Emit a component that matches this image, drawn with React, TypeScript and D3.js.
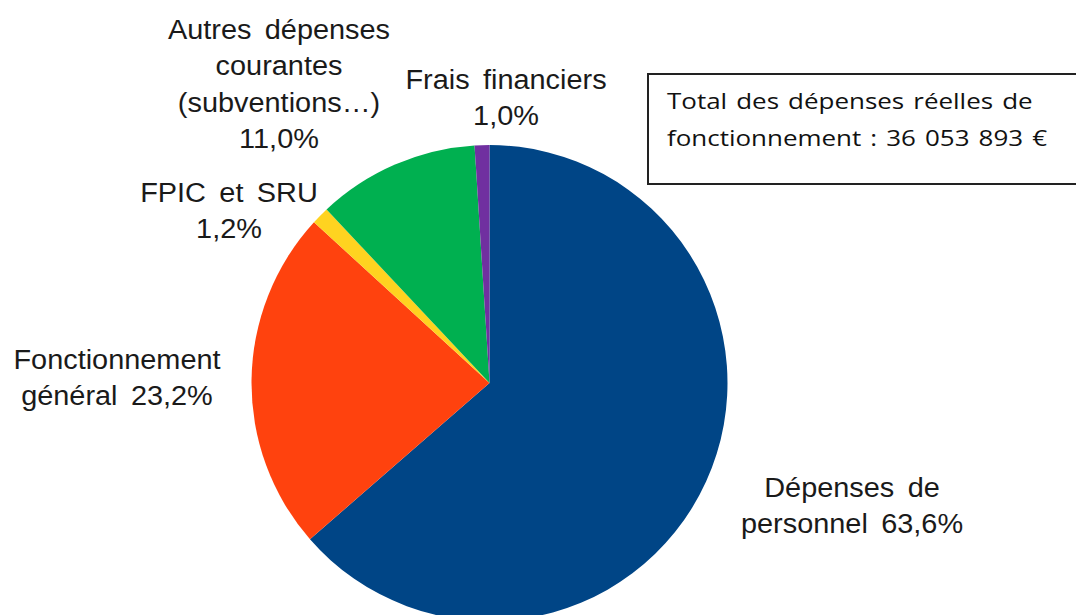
import React from 'react';
import { pie, arc, PieArcDatum } from 'd3';

const width = 1076;
const height = 615;

// data, in drawing order (clockwise from 12 o'clock)
const categories = [
  'Dépenses de personnel',
  'Fonctionnement général',
  'FPIC et SRU',
  'Autres dépenses courantes (subventions…)',
  'Frais financiers',
];
const shares = [63.6, 23.2, 1.2, 11.0, 1.0];
const labelLines = [
  ['Dépenses de', 'personnel 63,6%'],
  ['Fonctionnement', 'général 23,2%'],
  ['FPIC et SRU', '1,2%'],
  ['Autres dépenses', 'courantes', '(subventions…)', '11,0%'],
  ['Frais financiers', '1,0%'],
];
const colors = ['#004586', '#ff420e', '#ffd320', '#00b050', '#7030a0'];
const totalLines = [
  'Total des dépenses réelles de',
  'fonctionnement : 36 053 893 €',
];

// layout
const cx = 489.5;
const cy = 383;
const radius = 238;
const lineGap = 36.5;
// label anchor (centre x, first baseline y)
const labelPos = [
  [852, 497],
  [117, 369],
  [229, 202],
  [279, 39],
  [506, 89],
];

type Row = { name: string; value: number; color: string };

const App = () => {
  const rows: Row[] = categories.map((name, i) => ({
    name,
    value: shares[i],
    color: colors[i],
  }));
  const arcs = pie<Row>()
    .sort(null)
    .value((d) => d.value)(rows);
  const arcGen = arc<PieArcDatum<Row>>().innerRadius(0).outerRadius(radius);

  return (
    <svg
      width={width}
      height={height}
      style={{ position: 'absolute', left: 0, top: 0, background: '#fff' }}
    >
      <g transform={`translate(${cx},${cy})`}>
        {arcs.map((a) => (
          <path key={a.data.name} d={arcGen(a) || ''} fill={a.data.color} />
        ))}
      </g>
      {labelLines.map((lines, i) => (
        <text
          key={categories[i]}
          textAnchor="middle"
          fontFamily="'Liberation Sans', Arial, sans-serif"
          fontSize={27}
          fill="#1a1a1a"
          style={{ wordSpacing: '5px' }}
          transform={`translate(${labelPos[i][0]},${labelPos[i][1]}) scale(1.07,1)`}
        >
          {lines.map((l, j) => (
            <tspan key={j} x={0} y={j * lineGap}>
              {l}
            </tspan>
          ))}
        </text>
      ))}
      <rect
        x={648}
        y={74}
        width={440}
        height={110}
        fill="#fff"
        stroke="#222"
        strokeWidth={2}
      />
      <text
        fontFamily="'Open Sans', 'Noto Sans', sans-serif"
        fontSize={22}
        fill="#111"
        transform="translate(667,0) scale(1.18,1)"
        style={{ wordSpacing: '2px' }}
      >
        {totalLines.map((l, j) => (
          <tspan key={j} x={0} y={109 + j * 37}>
            {l}
          </tspan>
        ))}
      </text>
    </svg>
  );
};

export default App;
